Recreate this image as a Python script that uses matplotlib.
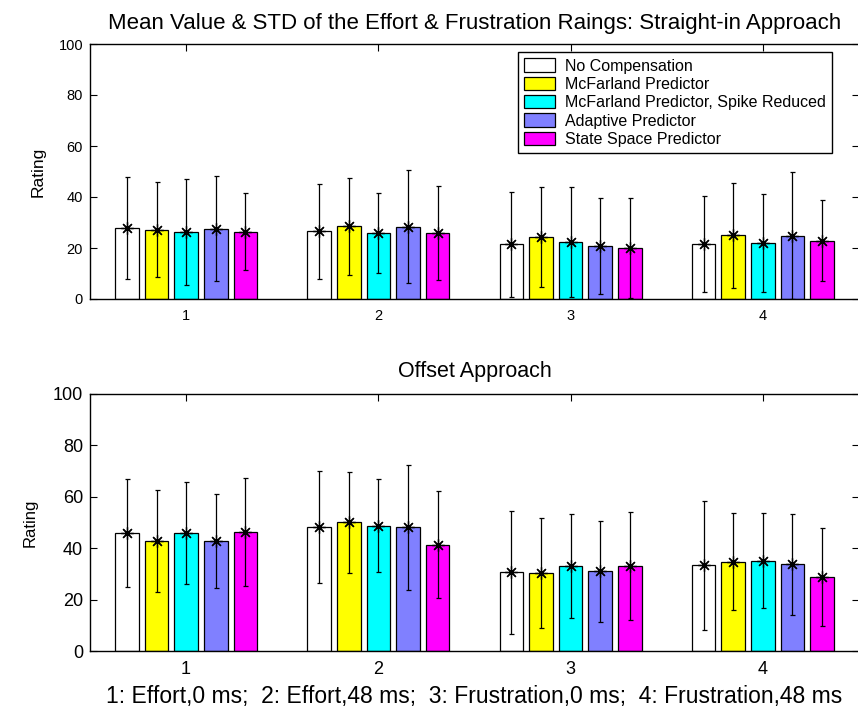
import numpy as np
import matplotlib
matplotlib.use("Agg")
import matplotlib.pyplot as plt

plt.rcParams['font.family'] = ['Liberation Sans', 'DejaVu Sans']

series = ["No Compensation", "McFarland Predictor", "McFarland Predictor, Spike Reduced",
          "Adaptive Predictor", "State Space Predictor"]
colors = ["#ffffff", "#ffff00", "#00ffff", "#8080ff", "#ff00ff"]
conditions = [1, 2, 3, 4]
xlabel_text = "1: Effort,0 ms;  2: Effort,48 ms;  3: Frustration,0 ms;  4: Frustration,48 ms"

# Straight-in approach: rows = series, columns = conditions 1..4
straight_mean = [
    [27.8, 26.5, 21.5, 21.5],
    [27.2, 28.5, 24.3, 25.0],
    [26.3, 25.8, 22.2, 22.0],
    [27.6, 28.4, 20.7, 24.9],
    [26.4, 25.8, 20.0, 22.9],
]
straight_std = [
    [20.0, 18.5, 20.6, 18.8],
    [18.5, 19.0, 19.5, 20.5],
    [20.8, 15.7, 21.6, 19.2],
    [20.5, 22.3, 18.8, 25.0],
    [15.0, 18.5, 19.5, 16.0],
]

# Offset approach
offset_mean = [
    [46.0, 48.3, 30.6, 33.3],
    [42.8, 50.1, 30.4, 34.7],
    [46.0, 48.8, 33.2, 35.2],
    [42.8, 48.1, 31.0, 33.7],
    [46.2, 41.4, 33.0, 28.8],
]
offset_std = [
    [21.0, 21.7, 23.8, 25.1],
    [20.0, 19.6, 21.4, 18.9],
    [19.8, 18.2, 20.3, 18.5],
    [18.4, 24.2, 19.6, 19.5],
    [21.0, 20.7, 20.9, 18.9],
]

W, H = 858, 712
fig = plt.figure(figsize=(W / 100, H / 100), dpi=100)


def px_axes(left, top, right, bottom):
    return fig.add_axes([left / W, (H - bottom) / H, (right - left) / W, (bottom - top) / H])


ax1 = px_axes(90, 44, 859, 299)
ax2 = px_axes(90, 394, 859, 651)

n = len(series)
step = 0.154
bar_w = 0.123
xs = np.array(conditions, dtype=float)
asterisk = (8, 2, 0)


def draw(ax, means, stds, tick_fs, xpad, label_fs, labelpad, title, title_fs, title_pad):
    for i in range(n):
        pos = xs + (i - (n - 1) / 2) * step
        ax.bar(pos, means[i], width=bar_w, color=colors[i], edgecolor="black",
               linewidth=0.9, label=series[i], zorder=2)
        ax.errorbar(pos, means[i], yerr=stds[i], fmt="none",
                    ecolor="black", elinewidth=0.9, capsize=1.8, capthick=0.9, zorder=3)
        ax.plot(pos, means[i], linestyle="none", marker=asterisk, color="black",
                markersize=9, markeredgewidth=0.9, zorder=4)
    ax.set_xlim(0.5, 4.5)
    ax.set_ylim(0, 100)
    ax.set_xticks(conditions)
    ax.set_yticks(np.arange(0, 101, 20))
    ax.tick_params(direction="in", top=True, right=True, length=5, width=0.8,
                   labelsize=tick_fs)
    ax.tick_params(axis="x", pad=xpad)
    ax.tick_params(axis="y", pad=5)
    ax.set_ylabel("Rating", fontsize=label_fs, labelpad=labelpad)
    ax.set_title(title, fontsize=title_fs, pad=title_pad)
    for s in ax.spines.values():
        s.set_linewidth(1.0)


draw(ax1, straight_mean, straight_std, 10.5, 7, 12.5, 9,
     "Mean Value & STD of the Effort & Frustration Raings: Straight-in Approach", 16, 11)
draw(ax2, offset_mean, offset_std, 13, 7, 12, 11, "Offset Approach", 15.5, 12)
ax2.set_xlabel(xlabel_text, fontsize=16.5, labelpad=5)

leg = ax1.legend(loc="upper right", bbox_to_anchor=((832 - 90) / (859 - 90), (299 - 52) / (299 - 44)),
                 borderaxespad=0, fontsize=11.5, frameon=True, fancybox=False,
                 handlelength=1.95, handleheight=0.9, labelspacing=0.2,
                 handletextpad=0.6, borderpad=0.4)
leg.get_frame().set_edgecolor("black")
leg.get_frame().set_linewidth(1.0)
leg.get_frame().set_alpha(1)

fig.savefig("out.png", dpi=100)
